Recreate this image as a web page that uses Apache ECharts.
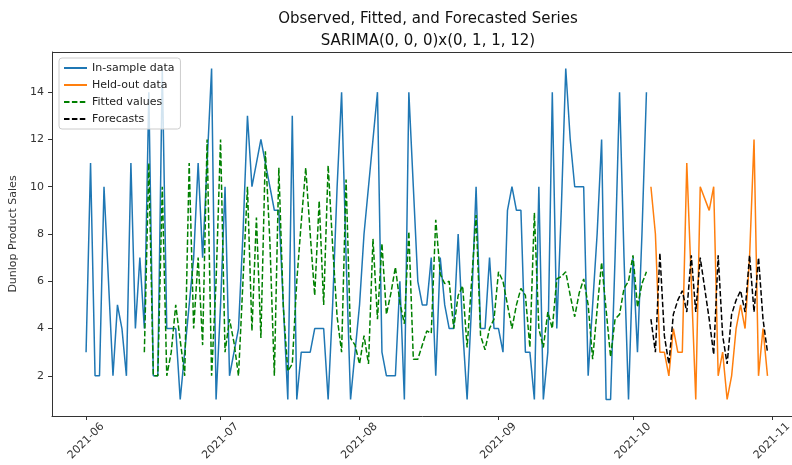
<!DOCTYPE html>
<html>
<head>
<meta charset="utf-8">
<script src="https://cdn.jsdelivr.net/npm/echarts@6/dist/echarts.min.js"></script>
<style>
  html, body { margin: 0; background: #fff; }
  #chart { width: 792px; height: 465px; }
</style>
</head>
<body>
<div id="chart"></div>
<script>
// daily in-sample sales, starting 2021-06-01
const inSampleStart = [2021, 6, 1];
const inSample = [
  3, 11, 2, 2, 10, 6, 2, 5, 4, 2,
  11, 4, 7, 4, 14, 2, 2, 15, 4, 4,
  4, 1, 3, 5, 7, 11, 7, 11, 15, 1,
  5, 10, 2, 3, 4, 8, 13, 10, 11, 12,
  11, 10, 9, 9, 5, 1, 13, 1, 3, 3,
  3, 4, 4, 4, 1, 5, 10, 14, 7, 1,
  3, 5, 8, 10, 12, 14, 3, 2, 2, 2,
  6, 1, 14, 10, 6, 5, 5, 7, 2, 7,
  5, 4, 4, 8, 4, 1, 5, 10, 4, 4,
  7, 4, 4, 3, 9, 10, 9, 9, 3, 3,
  1, 10, 1, 3, 14, 4, 9, 15, 12, 10,
  10, 10, 2, 5, 8, 12, 1, 1, 7, 14,
  7, 1, 7, 3, 8, 14
];

// fitted values, starting 2021-06-14
const fittedStart = [2021, 6, 14];
const fitted = [
  3, 11, 2, 2, 10, 2, 3, 5, 3.5, 2,
  11, 4, 7, 3.3, 12, 2, 6, 12, 3, 4.4,
  3.4, 2, 6, 10, 3.9, 8.7, 3.6, 11.5, 7.7, 2,
  10.8, 4.9, 2.2, 2.5, 6, 8.5, 10.8, 8, 5.4, 9.4,
  5, 10.9, 7.5, 4.5, 3, 10.3, 3.6, 3.3, 2.5, 3.7,
  2.5, 7.8, 4.4, 7.6, 4.6, 5.5, 6.6, 5.1, 4.2, 8.1,
  2.7, 2.7, 3.3, 3.9, 3.8, 8.6, 6.3, 5.9, 6, 4,
  5.4, 5.8, 3.2, 6, 8.8, 3.7, 3.1, 4, 4.4, 6.4,
  6, 5, 4, 5, 5.7, 5.4, 3.2, 8.9, 4, 3.2,
  4.7, 4, 6.1, 6.2, 6.4, 5.4, 4.5, 5.5, 6.1, 5,
  2.7, 4.8, 6.8, 4.8, 2.8, 4.4, 4.6, 5.7, 6, 7.1,
  4.9, 5.9, 6.4
];

// held-out period (October 2021 days)
const heldOutDays = [5, 6, 7, 8, 9, 10, 11, 12, 13, 14, 15, 16,
  18, 19, 20, 21, 22, 23, 24, 25, 26, 27, 28, 29, 30, 31];
const heldOut = [10, 8, 3, 3, 2, 4, 3, 3, 11, 6, 1, 10,
  9, 10, 2, 3, 1, 2, 4, 5, 4, 7, 12, 2, 4, 2];
const forecasts = [4.4, 3.0, 7.2, 3.7, 2.5, 4.6, 5.2, 5.6, 4.7, 7.1, 4.7, 7.0,
  4.4, 2.9, 7.1, 3.7, 2.5, 4.6, 5.2, 5.6, 4.7, 7.1, 4.7, 7.0, 4.4, 3.0];

const monthTicks = ['2021-06', '2021-07', '2021-08', '2021-09', '2021-10', '2021-11'];
const yTicks = [2, 4, 6, 8, 10, 12, 14];

const DAY = 86400000;
function daily(start, values) {
  const t0 = Date.UTC(start[0], start[1] - 1, start[2]);
  return values.map((v, i) => [t0 + i * DAY, v]);
}
function onDays(days, values) {
  return values.map((v, i) => [Date.UTC(2021, 9, days[i]), v]);
}
const tickTimes = monthTicks.map(s => Date.parse(s + '-01T00:00:00Z'));
const t0 = Date.UTC(2021, 5, 1);
const xMin = t0 - 7.6 * DAY;
const xMax = t0 + 159.7 * DAY;

const font = 'DejaVu Sans';
const axisColor = '#333';
const chart = echarts.init(document.getElementById('chart'));
chart.setOption({
  animation: false,
  textStyle: { fontFamily: font },
  title: {
    text: 'Observed, Fitted, and Forecasted Series\nSARIMA(0, 0, 0)x(0, 1, 1, 12)',
    left: 423,
    textAlign: 'center',
    top: 3,
    textStyle: { fontFamily: font, fontSize: 15, fontWeight: 'normal', color: '#111', lineHeight: 22 }
  },
  legend: {
    orient: 'vertical',
    left: 59,
    top: 58,
    itemWidth: 23,
    itemHeight: 12,
    itemGap: 5,
    padding: [4, 6, 4, 4],
    backgroundColor: 'rgba(255,255,255,0.8)',
    borderColor: '#ccc',
    borderWidth: 1,
    borderRadius: 3,
    itemStyle: { opacity: 0 },
    textStyle: { fontFamily: font, fontSize: 11, color: '#222', lineHeight: 12 },
    data: ['In-sample data', 'Held-out data', 'Fitted values', 'Forecasts']
  },
  // the axes box runs past the right edge of the picture
  grid: { left: 52, top: 52, width: 750, height: 364, outerBoundsMode: 'none', containLabel: false },
  graphic: [{
    type: 'line', z: 10,
    shape: { x1: 52, y1: 52.5, x2: 792, y2: 52.5 },
    style: { stroke: axisColor, lineWidth: 1 }
  }],
  xAxis: {
    type: 'value',
    min: xMin,
    max: xMax,
    splitLine: { show: false },
    axisLine: { lineStyle: { color: axisColor } },
    axisTick: { customValues: tickTimes, length: 4, lineStyle: { color: axisColor } },
    axisLabel: {
      customValues: tickTimes,
      rotate: 45,
      align: 'center',
      verticalAlign: 'middle',
      margin: 25,
      fontSize: 11,
      color: axisColor,
      formatter: function (val) {
        const d = new Date(val);
        return d.getUTCFullYear() + '-' + String(d.getUTCMonth() + 1).padStart(2, '0');
      }
    }
  },
  yAxis: {
    type: 'value',
    min: 0.3,
    max: 15.7,
    name: 'Dunlop Product Sales',
    nameLocation: 'middle',
    nameGap: 31,
    nameTextStyle: { fontFamily: font, fontSize: 11, color: axisColor },
    splitLine: { show: false },
    axisLine: { show: true, lineStyle: { color: axisColor } },
    axisTick: { show: true, customValues: yTicks, length: 4, lineStyle: { color: axisColor } },
    axisLabel: { customValues: yTicks, fontSize: 11, color: axisColor, margin: 8 }
  },
  series: [
    {
      name: 'In-sample data', type: 'line', symbol: 'none',
      data: daily(inSampleStart, inSample),
      lineStyle: { color: '#1f77b4', width: 1.5 }, itemStyle: { color: '#1f77b4' }
    },
    {
      name: 'Held-out data', type: 'line', symbol: 'none',
      data: onDays(heldOutDays, heldOut),
      lineStyle: { color: '#ff7f0e', width: 1.5 }, itemStyle: { color: '#ff7f0e' }
    },
    {
      name: 'Fitted values', type: 'line', symbol: 'none',
      data: daily(fittedStart, fitted),
      lineStyle: { color: '#008000', width: 1.5, type: [5.5, 2.4] }, itemStyle: { color: '#008000' }
    },
    {
      name: 'Forecasts', type: 'line', symbol: 'none',
      data: onDays(heldOutDays, forecasts),
      lineStyle: { color: '#000', width: 1.5, type: [5.5, 2.4] }, itemStyle: { color: '#000' }
    }
  ]
});
</script>
</body>
</html>
